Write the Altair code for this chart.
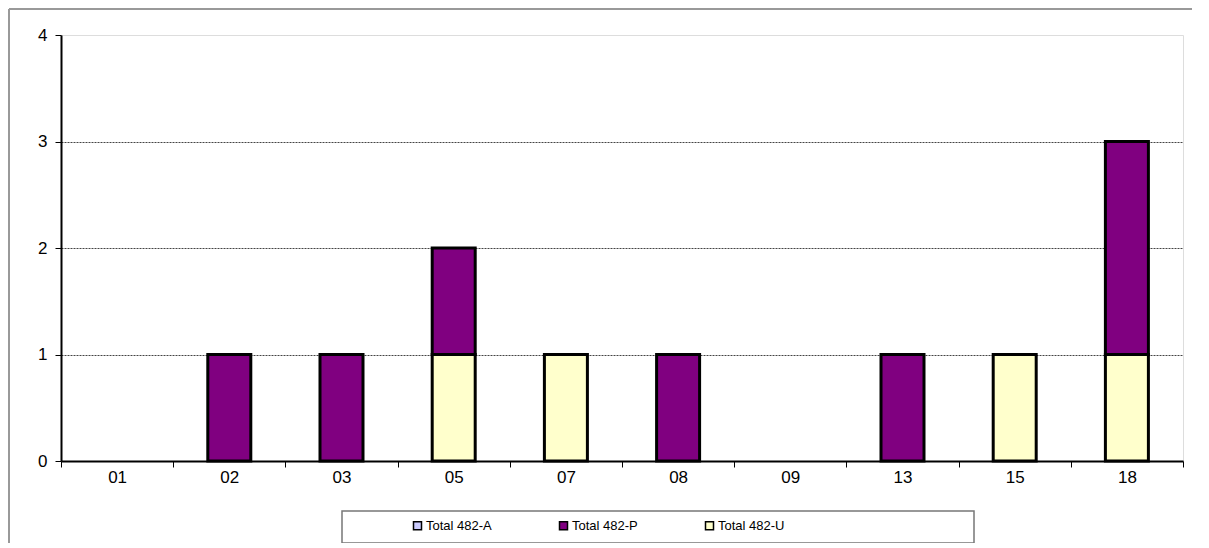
import altair as alt
import pandas as pd

categories = ["01", "02", "03", "05", "07", "08", "09", "13", "15", "18"]
series = ["Total 482-A", "Total 482-P", "Total 482-U"]
values_A = [0, 0, 0, 0, 0, 0, 0, 0, 0, 0]
values_P = [0, 1, 1, 1, 0, 1, 0, 1, 0, 2]
values_U = [0, 0, 0, 1, 1, 0, 0, 0, 1, 1]
colors = ["#CCCCFF", "#800080", "#FFFFCC"]
stack_rank = {"Total 482-U": 0, "Total 482-P": 1, "Total 482-A": 2}

rows = []
for s, vals in zip(series, [values_A, values_P, values_U]):
    for c, v in zip(categories, vals):
        rows.append({"cat": c, "series": s, "value": v, "rank": stack_rank[s]})
df = pd.DataFrame(rows)

FONT = "Liberation Sans"

bars = alt.Chart(df).transform_filter("datum.value > 0").mark_bar(
    size=43, stroke="black", strokeWidth=3
).encode(
    x=alt.X("cat:N", scale=alt.Scale(domain=categories, paddingInner=0, paddingOuter=0),
            axis=alt.Axis(title=None, labelAngle=0, tickBand="extent", tickSize=6,
                          tickColor="black", tickWidth=1, domainColor="black", domainWidth=2,
                          labelFontSize=17, labelColor="black", labelPadding=2, grid=False,
                          labelFont=FONT)),
    y=alt.Y("value:Q", stack="zero", scale=alt.Scale(domain=[0, 4], nice=False),
            axis=alt.Axis(title=None, values=[0, 1, 2, 3, 4], tickSize=6, tickColor="black",
                          domainColor="black", domainWidth=2, labelFontSize=17,
                          labelColor="black", labelPadding=8, labelFont=FONT, grid=True,
                          gridColor=alt.condition("datum.value == 4 || datum.value == 0",
                                                  alt.value("transparent"), alt.value("#444")),
                          gridDash=[2, 1], gridWidth=1)),
    color=alt.Color("series:N", scale=alt.Scale(domain=series, range=colors),
                    legend=alt.Legend(title=None, orient="none", legendX=350, legendY=484,
                                      direction="horizontal", symbolType="square",
                                      symbolSize=64, symbolStrokeColor="black",
                                      symbolStrokeWidth=1.5, labelFontSize=13,
                                      labelFont=FONT, labelColor="black", labelOffset=2,
                                      columnPadding=64)),
    order=alt.Order("rank:Q", sort="ascending"),
)

frame = alt.Chart(alt.Data(values=[{}])).mark_rect(
    fill="transparent", stroke="#777", strokeWidth=1.5
).encode(x=alt.value(281), x2=alt.value(913), y=alt.value(476), y2=alt.value(508))

outer_top = alt.Chart(alt.Data(values=[{}])).mark_rule(
    stroke="#999", strokeWidth=2
).encode(x=alt.value(-52), x2=alt.value(1131), y=alt.value(-26))

outer_left = alt.Chart(alt.Data(values=[{}])).mark_rule(
    stroke="#999", strokeWidth=2
).encode(x=alt.value(-52), y=alt.value(-26), y2=alt.value(510))

chart = alt.layer(outer_top, outer_left, bars, frame).properties(
    width=1122, height=426,
    autosize=alt.AutoSizeParams(type="none"),
    padding={"left": 53, "top": 27, "right": 10, "bottom": 82},
).configure_view(stroke="#888", strokeWidth=2).configure(font=FONT)

chart.save("out.html", embed_options={"renderer": "svg", "actions": False})
